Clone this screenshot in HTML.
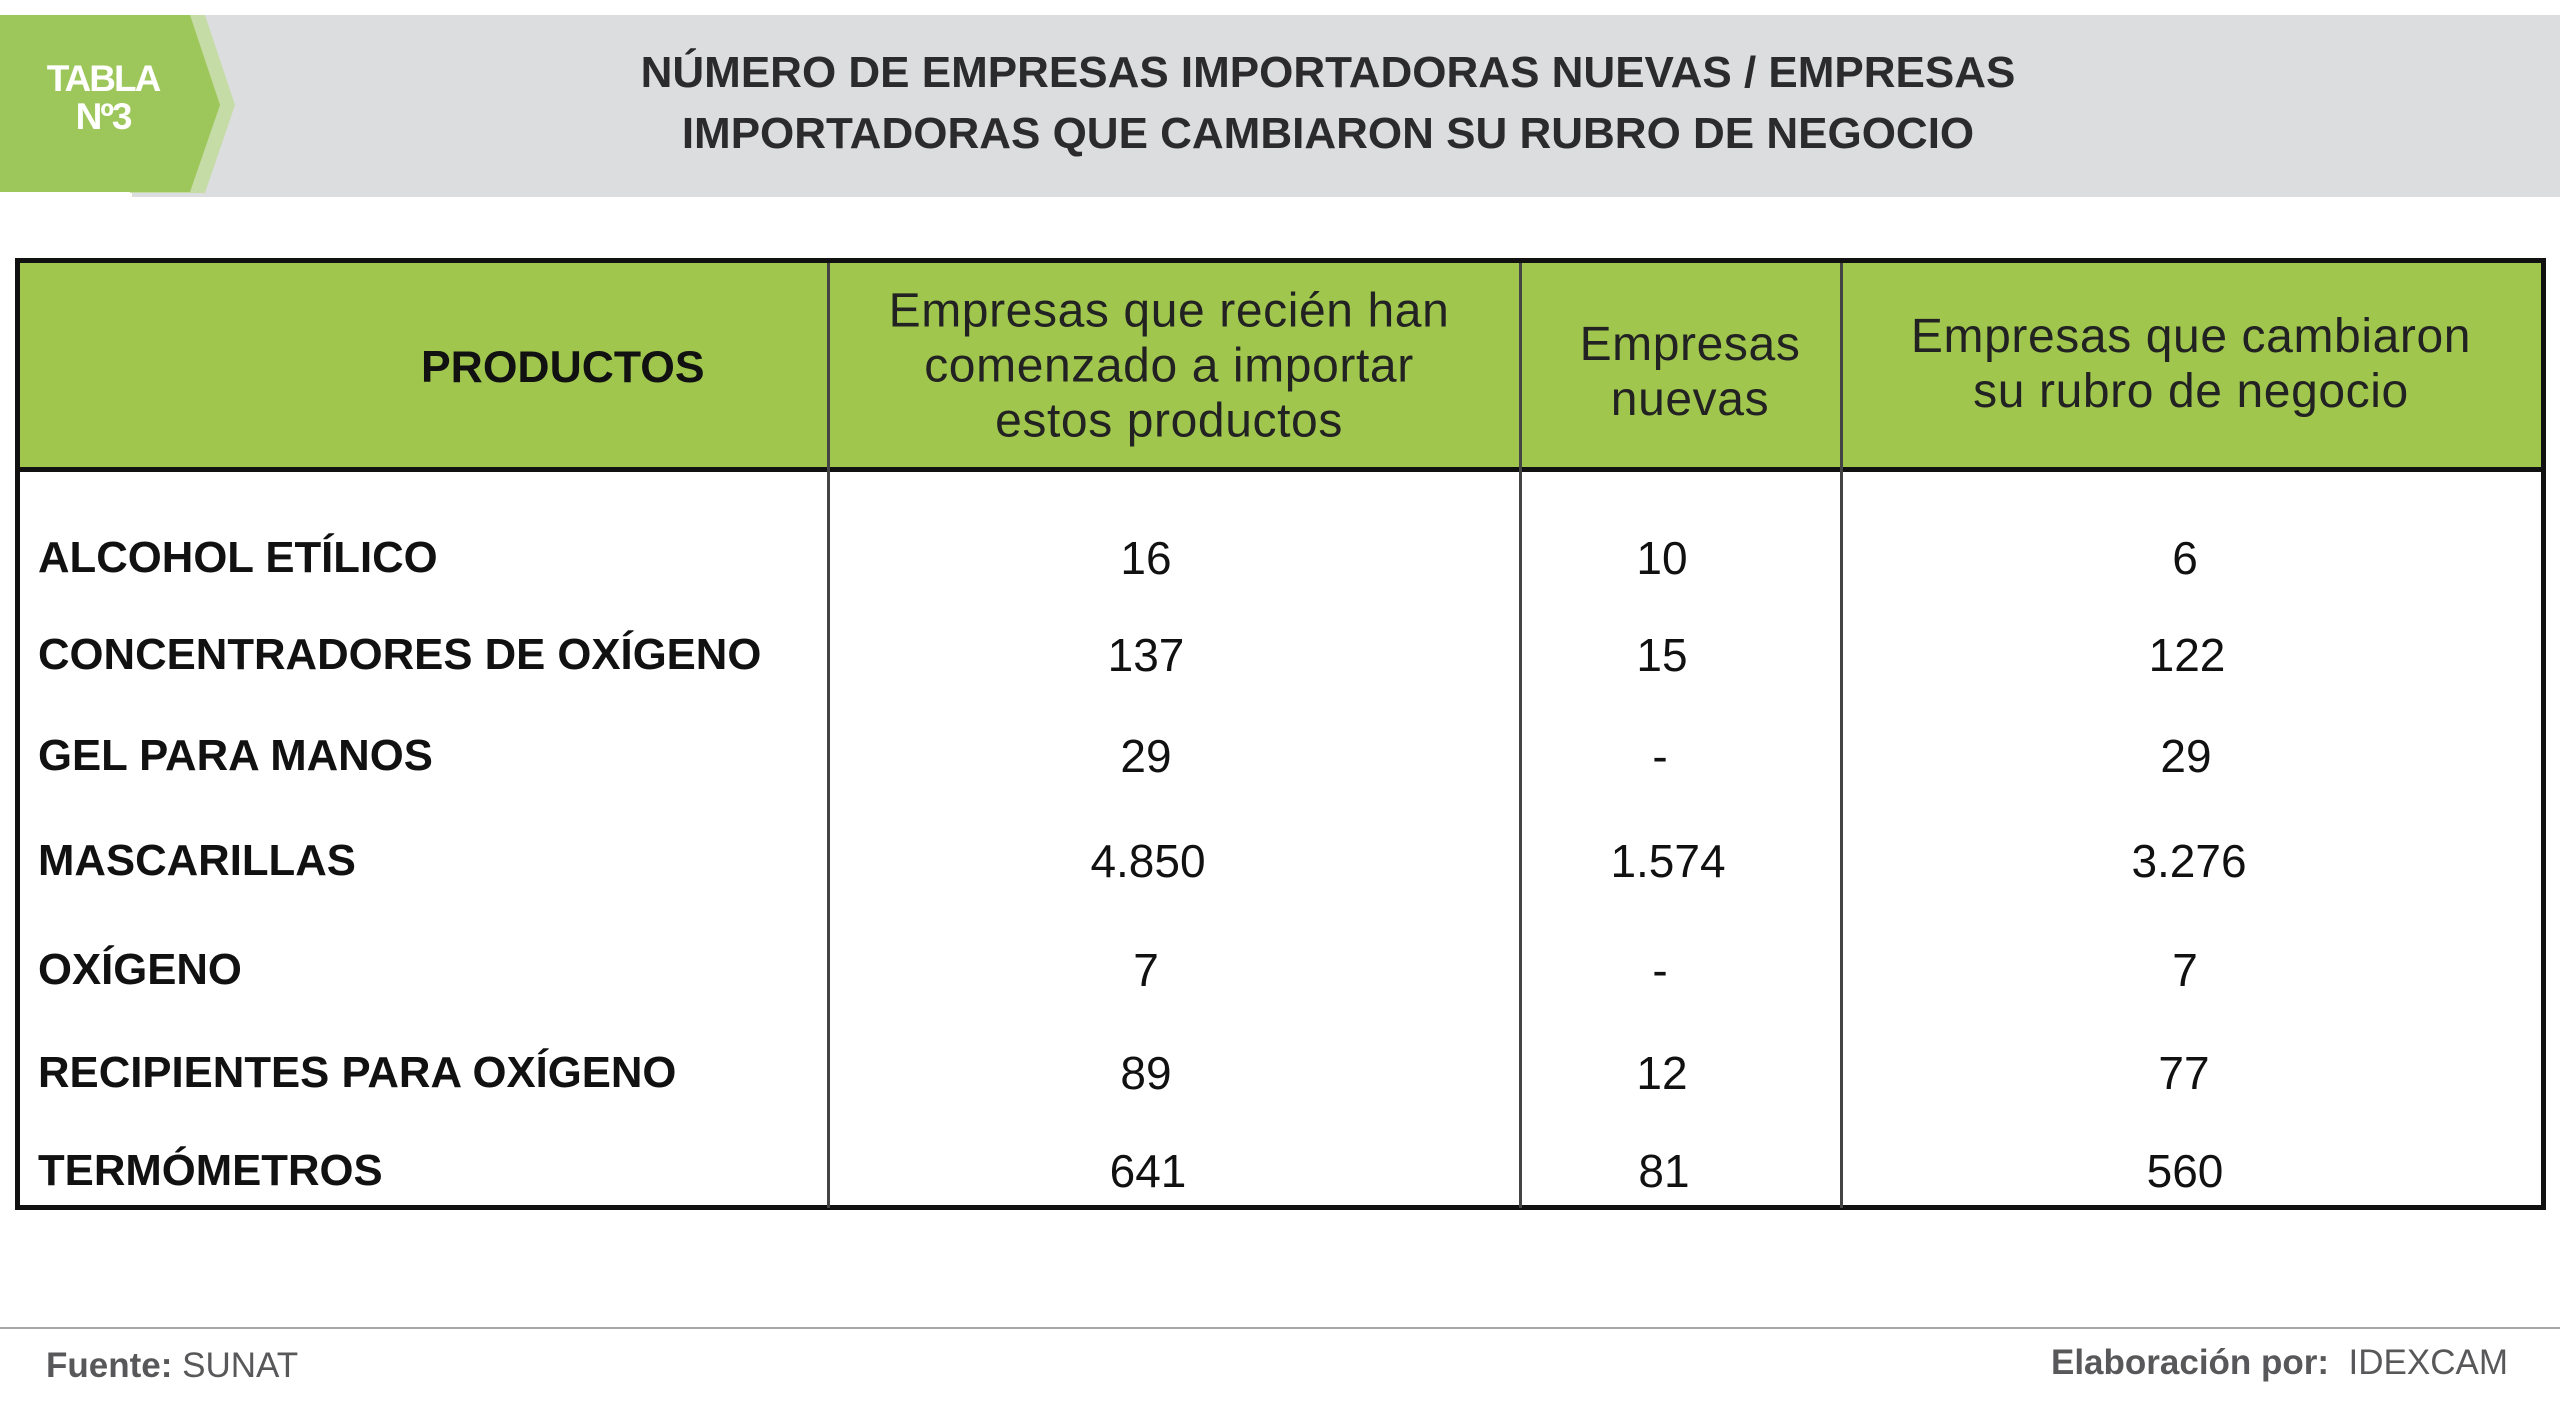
<!DOCTYPE html>
<html><head><meta charset="utf-8"><style>
*{margin:0;padding:0;box-sizing:border-box}
body{width:2560px;height:1426px;background:#fff;position:relative;overflow:hidden;font-family:"Liberation Sans",sans-serif}
.abs{position:absolute}
.title{left:128px;width:2400px;text-align:center;font-weight:bold;font-size:44px;color:#2b2b2d;line-height:61px;top:42px}
.lab{position:absolute;left:38px;font-weight:bold;font-size:43.7px;color:#111;transform:translateY(-50%);white-space:nowrap}
.num{position:absolute;font-size:46px;color:#111;transform:translate(-50%,-50%);white-space:nowrap}
.hd{position:absolute;text-align:center;font-size:48px;color:#222;line-height:55px;transform:translate(-50%,-50%);white-space:nowrap;letter-spacing:0.6px}
.vl{position:absolute;top:263px;height:945px;width:3px;background:#444}
</style></head><body>
<div class="abs" style="left:132px;top:15px;width:2428px;height:182px;background:#dcdddf"></div>
<svg class="abs" style="left:0;top:15px" width="240" height="180">
<polygon points="130,0 205,0 235,90 205,178 130,178" fill="#c5dca6"/>
<polygon points="0,0 190,0 220,90 190,177 0,177" fill="#9dc65b"/>
</svg>
<div class="abs" style="left:28px;top:60px;width:150px;text-align:center;color:#fff;font-weight:bold;font-size:37px;line-height:38px;letter-spacing:-2px">TABLA<br>Nº3</div>
<div class="abs title">NÚMERO DE EMPRESAS IMPORTADORAS NUEVAS / EMPRESAS<br>IMPORTADORAS QUE CAMBIARON SU RUBRO DE NEGOCIO</div>

<div class="abs" style="left:16px;top:260px;width:2529px;height:211px;background:#a0c64e"></div>
<div class="abs" style="left:15px;top:258px;width:2531px;height:952px;border:5px solid #111"></div>
<div class="abs" style="left:15px;top:467px;width:2531px;height:5px;background:#111"></div>
<div class="vl" style="left:827px"></div>
<div class="vl" style="left:1519px"></div>
<div class="vl" style="left:1840px"></div>

<div class="abs" style="left:421px;top:368px;transform:translateY(-50%);font-weight:bold;font-size:44.5px;color:#111">PRODUCTOS</div>
<div class="hd" style="left:1169px;top:366px">Empresas que recién han<br>comenzado a importar<br>estos productos</div>
<div class="hd" style="left:1690px;top:372px">Empresas<br>nuevas</div>
<div class="hd" style="left:2191px;top:364px">Empresas que cambiaron<br>su rubro de negocio</div>

<div class="lab" style="top:558px">ALCOHOL ETÍLICO</div>
<div class="lab" style="top:655px">CONCENTRADORES DE OXÍGENO</div>
<div class="lab" style="top:756px">GEL PARA MANOS</div>
<div class="lab" style="top:861px">MASCARILLAS</div>
<div class="lab" style="top:970px">OXÍGENO</div>
<div class="lab" style="top:1073px">RECIPIENTES PARA OXÍGENO</div>
<div class="lab" style="top:1171px">TERMÓMETROS</div>

<div class="num" style="left:1146px;top:558px">16</div>
<div class="num" style="left:1146px;top:655px">137</div>
<div class="num" style="left:1146px;top:756px">29</div>
<div class="num" style="left:1148px;top:861px">4.850</div>
<div class="num" style="left:1146px;top:970px">7</div>
<div class="num" style="left:1146px;top:1073px">89</div>
<div class="num" style="left:1148px;top:1171px">641</div>

<div class="num" style="left:1662px;top:558px">10</div>
<div class="num" style="left:1662px;top:655px">15</div>
<div class="num" style="left:1660px;top:756px">-</div>
<div class="num" style="left:1668px;top:861px">1.574</div>
<div class="num" style="left:1660px;top:970px">-</div>
<div class="num" style="left:1662px;top:1073px">12</div>
<div class="num" style="left:1664px;top:1171px">81</div>

<div class="num" style="left:2185px;top:558px">6</div>
<div class="num" style="left:2187px;top:655px">122</div>
<div class="num" style="left:2186px;top:756px">29</div>
<div class="num" style="left:2189px;top:861px">3.276</div>
<div class="num" style="left:2185px;top:970px">7</div>
<div class="num" style="left:2184px;top:1073px">77</div>
<div class="num" style="left:2185px;top:1171px">560</div>

<div class="abs" style="left:0;top:1327px;width:2560px;height:2px;background:#a8a8a8"></div>
<div class="abs" style="left:46px;top:1346px;font-size:35px;color:#58585a"><b>Fuente:</b> SUNAT</div>
<div class="abs" style="right:52px;top:1343px;font-size:35px;color:#58585a;white-space:nowrap"><b>Elaboración por:</b>&nbsp; IDEXCAM</div>
</body></html>
